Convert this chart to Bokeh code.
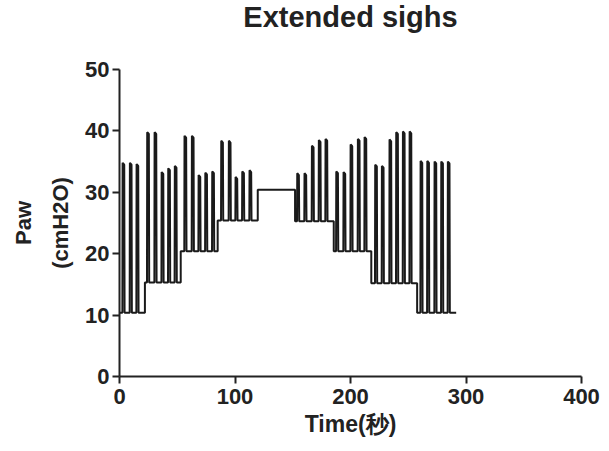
from bokeh.plotting import figure
from bokeh.models import Range1d, ColumnDataSource, Title
from bokeh.embed import file_html
from bokeh.resources import INLINE

# ---- data ----
peep_levels = [10.4, 15.3, 20.4, 25.4, 30.4, 25.3, 20.4, 15.2, 10.4]
step_starts = [0.0, 22.0, 53.0, 85.0, 119.7, 152.0, 185.5, 218.0, 257.7]
trace_end = 291.5
breath_times = [
    [3.5, 9.8, 15.6],
    [24.8, 31.2, 37.3, 43.0, 48.7],
    [57.1, 63.5, 69.3, 75.1, 81.1],
    [88.9, 95.5, 101.3, 107.1, 113.4],
    [],
    [154.7, 161.0, 167.4, 173.4, 179.2],
    [188.5, 194.8, 200.9, 207.2, 213.0],
    [222.2, 228.0, 234.6, 240.4, 246.2, 252.0],
    [261.5, 267.3, 273.6, 279.4, 285.1],
]
breath_peaks = [
    [34.8, 34.8, 34.6],
    [39.8, 39.8, 33.3, 33.9, 34.3],
    [39.2, 39.2, 32.8, 33.2, 33.4],
    [38.4, 38.4, 32.5, 33.4, 33.6],
    [],
    [33.1, 33.1, 37.6, 38.5, 38.7],
    [33.4, 33.3, 37.8, 38.7, 39.0],
    [34.5, 34.3, 38.6, 39.8, 39.9, 39.9],
    [35.1, 35.1, 35.0, 35.0, 35.0],
]
x_ticks = [0, 100, 200, 300, 400]
y_ticks = [0, 10, 20, 30, 40, 50]
title_text = "Extended sighs"

# ---- build the pressure trace from the step/breath tables ----
xs, ys = [], []
step_ends = step_starts[1:] + [trace_end]
for peep, s, e, times, peaks in zip(peep_levels, step_starts, step_ends,
                                    breath_times, breath_peaks):
    xs.append(s); ys.append(peep)
    for t, pk in zip(times, peaks):
        xs += [t - 1.0, t - 0.8, t + 0.6, t + 0.9]
        ys += [peep, pk, pk - 0.3, peep]
    xs.append(e); ys.append(peep)

src = ColumnDataSource(dict(x=xs, y=ys))

FONT = "Liberation Sans"
INK = "#222222"

p = figure(width=609, height=451, output_backend="svg", toolbar_location=None,
           x_range=Range1d(0, 400), y_range=Range1d(0, 50),
           min_border_left=119, min_border_right=28,
           min_border_top=67, min_border_bottom=75)
p.title = None
# a trailing blank line makes the title box fill the top border,
# so the visible line sits near the top of the picture
p.add_layout(Title(text=title_text + "\n", align="center", vertical_align="top",
                   text_font=FONT, text_font_size="29px",
                   text_font_style="bold", text_color=INK,
                   text_line_height=1.1, standoff=0),
             "above")

p.line("x", "y", source=src, line_color="#1a1a1a", line_width=2)

p.outline_line_color = None
p.grid.grid_line_color = None
p.background_fill_color = "white"
p.border_fill_color = "white"

for ax in (p.xaxis[0], p.yaxis[0]):
    ax.axis_line_color = INK
    ax.axis_line_width = 2
    ax.major_tick_line_color = INK
    ax.major_tick_line_width = 2
    ax.major_tick_out = 7
    ax.major_tick_in = 0
    ax.minor_tick_line_color = None
    ax.major_label_text_font = FONT
    ax.major_label_text_font_size = "22px"
    ax.major_label_text_font_style = "bold"
    ax.major_label_text_color = INK
    ax.axis_label_text_font = FONT
    ax.axis_label_text_font_style = "bold"
    ax.axis_label_text_color = INK

p.xaxis.axis_label_text_font_size = "23px"
p.yaxis.axis_label_text_font_size = "22px"
p.yaxis.axis_label_text_line_height = 1.5
p.xaxis.ticker = x_ticks
p.yaxis.ticker = y_ticks
p.xaxis.axis_label = "Time(秒)"
p.yaxis.axis_label = "Paw\n(cmH2O)"
p.xaxis.major_label_standoff = 5
p.yaxis.major_label_standoff = 3
p.xaxis.axis_label_standoff = 4
p.yaxis.axis_label_standoff = 9

open("out.html", "w").write(file_html(p, INLINE))
